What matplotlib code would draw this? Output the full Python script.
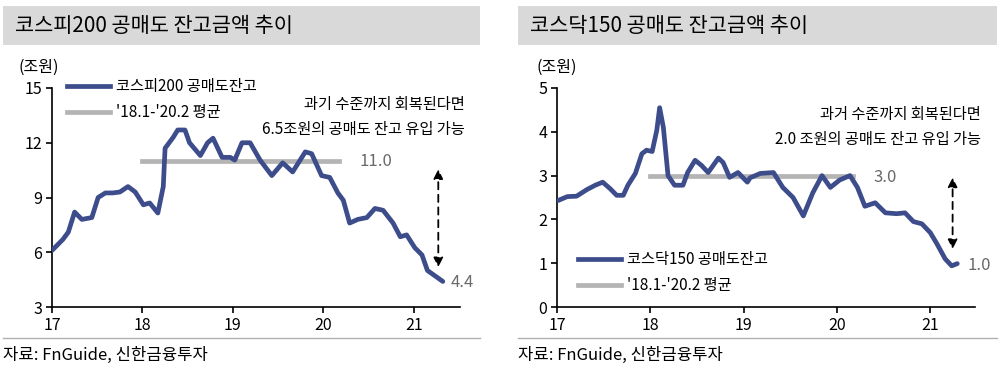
import matplotlib
matplotlib.use("Agg")
import matplotlib.pyplot as plt
from matplotlib.patches import Rectangle
from matplotlib.lines import Line2D

plt.rcParams['font.family'] = ['Noto Sans CJK KR', 'DejaVu Sans']

# KOSPI200 short-selling balance (trillion won)
kospi_t = [17.00, 17.12, 17.18, 17.25, 17.33, 17.44, 17.51, 17.59, 17.67, 17.75,
           17.84, 17.92, 18.01, 18.08, 18.17, 18.23, 18.25, 18.34, 18.39, 18.47,
           18.52, 18.64, 18.72, 18.78, 18.88, 18.97, 19.02, 19.10, 19.19, 19.30,
           19.43, 19.55, 19.66, 19.80, 19.87, 19.98, 20.07, 20.16, 20.22, 20.29,
           20.38, 20.48, 20.57, 20.66, 20.77, 20.85, 20.92, 21.01, 21.09, 21.15,
           21.25, 21.32]
kospi_v = [6.1, 6.7, 7.1, 8.2, 7.8, 7.9, 9.0, 9.25, 9.25, 9.3,
           9.6, 9.3, 8.6, 8.7, 8.15, 9.6, 11.7, 12.3, 12.7, 12.7,
           12.0, 11.3, 12.0, 12.25, 11.2, 11.2, 11.05, 12.0, 12.0, 11.05,
           10.2, 10.9, 10.4, 11.5, 11.4, 10.2, 10.1, 9.25, 8.85, 7.6,
           7.8, 7.9, 8.4, 8.3, 7.6, 6.85, 6.95, 6.25, 5.85, 5.0,
           4.65, 4.4]

# KOSDAQ150 short-selling balance (trillion won)
kosdaq_t = [17.01, 17.11, 17.21, 17.32, 17.41, 17.49, 17.57, 17.64, 17.71, 17.76,
            17.84, 17.91, 17.96, 18.02, 18.07, 18.10, 18.14, 18.19, 18.26, 18.35,
            18.40, 18.48, 18.55, 18.62, 18.73, 18.78, 18.85, 18.94, 19.04, 19.07,
            19.18, 19.32, 19.42, 19.53, 19.64, 19.74, 19.84, 19.93, 20.03, 20.14,
            20.22, 20.30, 20.41, 20.52, 20.64, 20.73, 20.82, 20.91, 21.00, 21.07,
            21.16, 21.23, 21.29]
kosdaq_v = [2.43, 2.52, 2.53, 2.68, 2.78, 2.85, 2.70, 2.55, 2.55, 2.78,
            3.05, 3.5, 3.58, 3.55, 4.04, 4.55, 4.1, 3.0, 2.78, 2.78,
            3.07, 3.35, 3.23, 3.07, 3.4, 3.3, 2.96, 3.07, 2.85, 2.95,
            3.05, 3.07, 2.73, 2.5, 2.08, 2.6, 3.0, 2.73, 2.9, 3.0,
            2.73, 2.3, 2.38, 2.15, 2.13, 2.15, 1.95, 1.9, 1.7, 1.45,
            1.1, 0.94, 0.99]

avg_period = [18.0, 20.17]
kospi_avg = 11.0
kosdaq_avg = 3.0

x_ticks = [17, 18, 19, 20, 21]
x_labels = ['17', '18', '19', '20', '21']

line_c = '#3d4c8a'
avg_c = '#b4b4b4'
lbl_c = '#6a6a6a'

fig = plt.figure(figsize=(10, 3.76), dpi=100)


def panel(rect, title, t, v, avg, yticks, ylim, xlim, leg_names, leg_anchor,
          note, note_xy, arrow_x, arrow_y, end_lbl, end_xy, avg_lbl_xy,
          bar_x, unit_x, src_x):
    ax = fig.add_axes(rect)
    ax.plot(t, v, color=line_c, lw=3.4, solid_capstyle='round',
            solid_joinstyle='round', zorder=3)
    ax.plot(avg_period, [avg, avg], color=avg_c, lw=3.4, zorder=2)
    ax.set_xlim(*xlim)
    ax.set_ylim(*ylim)
    ax.set_xticks(x_ticks)
    ax.set_xticklabels(x_labels)
    ax.set_yticks(yticks)
    for s in ['top', 'right']:
        ax.spines[s].set_visible(False)
    for s in ['left', 'bottom']:
        ax.spines[s].set_linewidth(1.2)
    ax.tick_params(length=4, width=1.2, labelsize=11.5, pad=3)

    handles = [Line2D([], [], color=line_c, lw=3.4),
               Line2D([], [], color=avg_c, lw=3.4)]
    fig.legend(handles, leg_names, loc='upper left', bbox_to_anchor=leg_anchor,
               frameon=False, fontsize=11, handlelength=2.8, handletextpad=0.4,
               labelspacing=0.6, borderpad=0, borderaxespad=0)

    ax.text(note_xy[0], note_xy[1], note, transform=fig.transFigure,
            ha='right', va='center', fontsize=11, linespacing=1.6)
    ax.annotate('', xy=(arrow_x, arrow_y[0]), xytext=(arrow_x, arrow_y[1]),
                arrowprops=dict(arrowstyle='<|-|>', color='black', lw=1.3,
                                linestyle=(0, (4, 3)), mutation_scale=14))
    ax.text(end_xy[0], end_xy[1], end_lbl, color=lbl_c, fontsize=12,
            ha='left', va='center')
    ax.text(avg_lbl_xy[0], avg_lbl_xy[1], f'{avg:.1f}', color=lbl_c,
            fontsize=12, ha='left', va='center')

    # title bar, unit and source
    fig.patches.append(Rectangle((bar_x[0], 1 - 45 / 376), bar_x[1] - bar_x[0],
                                 39 / 376, transform=fig.transFigure,
                                 facecolor='#d9d9d9', edgecolor='none'))
    fig.text(bar_x[0] + 0.012, 1 - 26 / 376, title, fontsize=15,
             fontweight='medium', va='center', ha='left')
    fig.text(unit_x, 1 - 67 / 376, '(조원)', fontsize=11.5, va='center')
    fig.add_artist(Line2D([bar_x[0], bar_x[1]], [1 - 338 / 376] * 2,
                          color='#b0b0b0', lw=1, transform=fig.transFigure))
    fig.text(src_x, 1 - 355 / 376, '자료: FnGuide, 신한금융투자', fontsize=12,
             va='center', ha='left')
    return ax


panel([0.052, 1 - 307 / 376, 0.408, 219 / 376], '코스피200 공매도 잔고금액 추이',
      kospi_t, kospi_v, kospi_avg, [3, 6, 9, 12, 15], (3, 15), (17, 21.51),
      ['코스피200 공매도잔고', "'18.1-'20.2 평균"], (0.067, 1 - 78 / 376),
      '과기 수준까지 회복된다면\n6.5조원의 공매도 잔고 유입 가능', (0.465, 1 - 117 / 376),
      21.27, (10.7, 5.03), '4.4', (21.41, 4.35), (20.40, 11.0),
      (0.003, 0.480), 0.018, 0.003)

panel([0.557, 1 - 307 / 376, 0.418, 219 / 376], '코스닥150 공매도 잔고금액 추이',
      kosdaq_t, kosdaq_v, kosdaq_avg, [0, 1, 2, 3, 4, 5], (0, 5), (17, 21.48),
      ['코스닥150 공매도잔고', "'18.1-'20.2 평균"], (0.578, 1 - 251 / 376),
      '과거 수준까지 회복된다면\n2.0 조원의 공매도 잔고 유입 가능', (0.981, 1 - 127 / 376),
      21.24, (3.02, 1.26), '1.0', (21.40, 0.95), (20.39, 2.95),
      (0.518, 0.997), 0.537, 0.518)

fig.savefig('out.png', dpi=100)
